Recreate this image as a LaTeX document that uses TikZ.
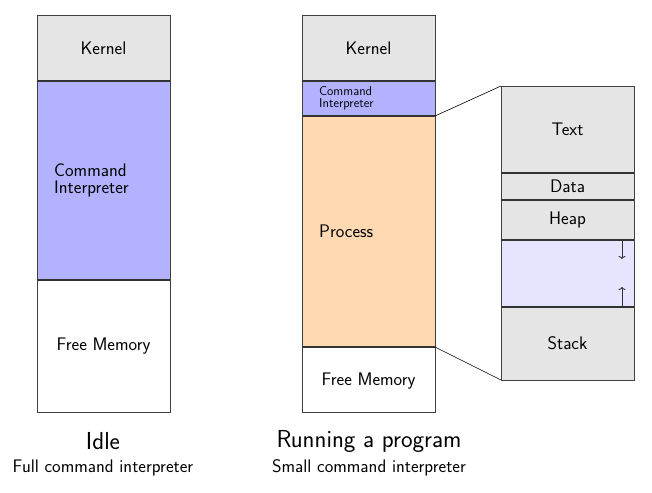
\documentclass[tikz,border=0pt]{standalone}
\usetikzlibrary{arrows.meta}
\tikzset{
  seg/.style={draw=black!75, line width=0.7pt, inner sep=0pt, outer sep=0pt, minimum width=133pt, anchor=north west},
  sepline/.style={draw=black!80, line width=1.5pt},
  lbl/.style={font=\fontsize{18.2}{17.5}\selectfont\sffamily, inner sep=0pt, align=left},
  slbl/.style={font=\fontsize{12.8}{12.2}\selectfont\sffamily, inner sep=0pt, align=left},
  ttl/.style={font=\fontsize{24.6}{24}\selectfont\sffamily, inner sep=0pt},
  zoomline/.style={draw=black, line width=0.6pt},
  growarrow/.style={draw=black!80, line width=0.9pt, -{To[length=3pt,width=7pt]}},
}
\begin{document}
\begin{tikzpicture}[x=1pt,y=-1pt]
\useasboundingbox (0,0) rectangle (652,492);
% Idle column
\node[seg, fill=black!10, minimum height=66pt] (kA) at (37,15) {};
\node[seg, fill=blue!30, minimum height=199pt] (cA) at (37,81) {};
\node[seg, fill=white, minimum height=132pt] (fA) at (37,280) {};
\draw[sepline] (kA.south west) -- (kA.south east);
\draw[sepline] (cA.south west) -- (cA.south east);
\node[lbl] (tkA) at (kA.center) {Kernel};
\node[lbl, anchor=west] (tcA) at ([xshift=17pt]cA.west) {Command\\Interpreter};
\node[lbl] (tfA) at (fA.center) {Free Memory};
% Running column
\node[seg, fill=black!10, minimum height=66pt] (kB) at (302,15) {};
\node[seg, fill=blue!30, minimum height=35pt] (cB) at (302,81) {};
\node[seg, fill=orange!30, minimum height=231pt] (pB) at (302,116) {};
\node[seg, fill=white, minimum height=65pt] (fB) at (302,347) {};
\draw[sepline] (kB.south west) -- (kB.south east);
\draw[sepline] (cB.south west) -- (cB.south east);
\draw[sepline] (pB.south west) -- (pB.south east);
\node[lbl] (tkB) at (kB.center) {Kernel};
\node[slbl, anchor=west] (tcB) at ([xshift=17pt]cB.west) {Command\\Interpreter};
\node[lbl, anchor=west] (tpB) at ([xshift=17pt]pB.west) {Process};
\node[lbl] (tfB) at ([yshift=-1.5pt]fB.center) {Free Memory};
% Process detail
\node[seg, fill=black!10, minimum height=87pt] (tx) at (501,86) {};
\node[seg, fill=black!10, minimum height=27pt] (dt) at (501,173) {};
\node[seg, fill=black!10, minimum height=40pt] (hp) at (501,200) {};
\node[seg, fill=blue!10, minimum height=67pt] (fr) at (501,240) {};
\node[seg, fill=black!10, minimum height=73pt] (st) at (501,307) {};
\draw[sepline] (tx.south west) -- (tx.south east);
\draw[sepline] (dt.south west) -- (dt.south east);
\draw[sepline] (hp.south west) -- (hp.south east);
\draw[sepline] (fr.south west) -- (fr.south east);
\node[lbl] (ttx) at (tx.center) {Text};
\node[lbl] (tdt) at (dt.center) {Data};
\node[lbl] (thp) at ([yshift=0.5pt]hp.center) {Heap};
\node[lbl] (tst) at (st.center) {Stack};
\coordinate (dn0) at ([xshift=-12pt]fr.north east);
\coordinate (dn1) at ([xshift=-12pt,yshift=-19pt]fr.north east);
\coordinate (up0) at ([xshift=-12pt]fr.south east);
\coordinate (up1) at ([xshift=-12pt,yshift=20pt]fr.south east);
\draw[growarrow] (dn0) -- (dn1);
\draw[growarrow] (up0) -- (up1);
\draw[zoomline] (cB.south east) -- (tx.north west);
\draw[zoomline] (pB.south east) -- (st.south west);
% captions
\node[ttl] (iA) at (103,441) {Idle};
\node[lbl] (sA) at (103,468) {Full command interpreter};
\node[ttl] (iB) at (369,441) {Running a program};
\node[lbl] (sB) at (369,468) {Small command interpreter};
\end{tikzpicture}
\end{document}
